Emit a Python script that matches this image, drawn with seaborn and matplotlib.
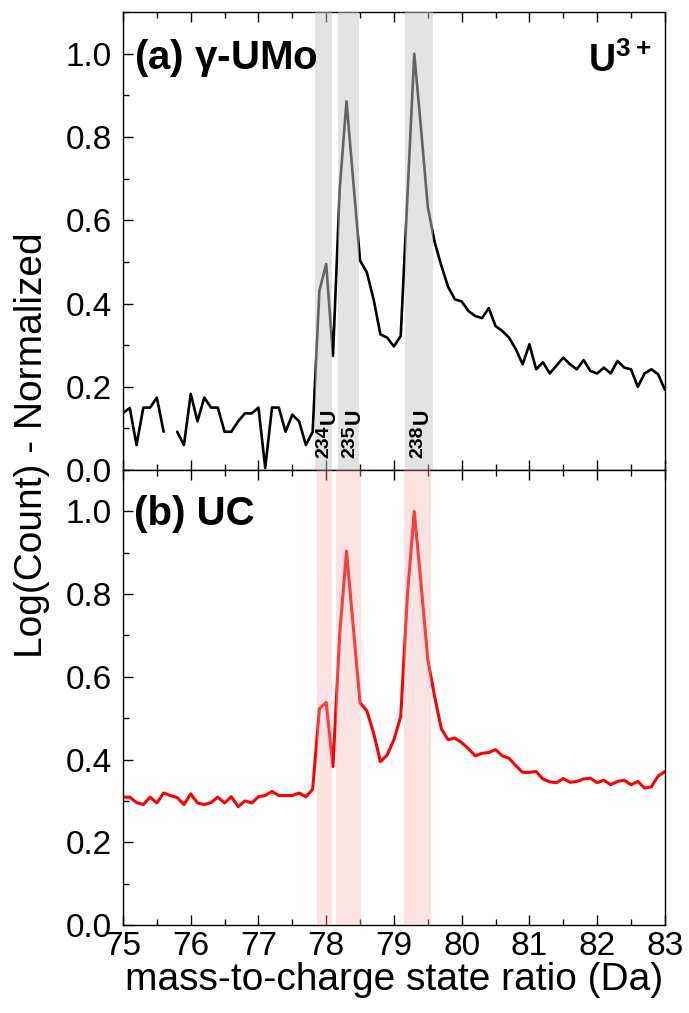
import numpy as np
import pandas as pd
import matplotlib
matplotlib.use("Agg")
import matplotlib.pyplot as plt
import seaborn as sns
from matplotlib.ticker import MultipleLocator

# mass-to-charge grid (Da), 0.1 Da bins
mz = np.linspace(75, 83, 81)

# (a) gamma-UMo, normalized log counts (75.7 bin empty)
umo = [0.137, 0.149, 0.060, 0.150, 0.150, 0.174, 0.092, np.nan, 0.092, 0.060,
       0.183, 0.117, 0.174, 0.150, 0.150, 0.092, 0.092, 0.117, 0.136, 0.136,
       0.150, 0.005, 0.150, 0.150, 0.092, 0.133, 0.117, 0.060, 0.092, 0.431,
       0.495, 0.274, 0.676, 0.886, 0.693, 0.503, 0.475, 0.410, 0.326, 0.318,
       0.297, 0.322, 0.660, 1.000, 0.820, 0.632, 0.548, 0.491, 0.440, 0.410,
       0.405, 0.382, 0.370, 0.365, 0.389, 0.346, 0.334, 0.318, 0.290, 0.254,
       0.302, 0.242, 0.259, 0.232, 0.251, 0.270, 0.254, 0.242, 0.264, 0.238,
       0.232, 0.246, 0.232, 0.262, 0.246, 0.242, 0.200, 0.232, 0.242, 0.230,
       0.193]

# (b) UC
uc = [0.309, 0.309, 0.296, 0.291, 0.309, 0.295, 0.319, 0.313, 0.308, 0.291,
      0.317, 0.295, 0.291, 0.296, 0.309, 0.295, 0.310, 0.286, 0.300, 0.295,
      0.310, 0.313, 0.323, 0.313, 0.313, 0.313, 0.319, 0.310, 0.328, 0.523,
      0.538, 0.383, 0.705, 0.904, 0.720, 0.537, 0.518, 0.464, 0.395, 0.411,
      0.448, 0.504, 0.800, 1.000, 0.825, 0.642, 0.553, 0.474, 0.448, 0.452,
      0.441, 0.426, 0.409, 0.415, 0.417, 0.424, 0.409, 0.403, 0.385, 0.369,
      0.369, 0.371, 0.353, 0.346, 0.344, 0.354, 0.345, 0.347, 0.353, 0.355,
      0.344, 0.350, 0.339, 0.347, 0.350, 0.339, 0.347, 0.331, 0.334, 0.360,
      0.371]

# isotope windows (Da)
bands_umo = [(77.83, 78.08), (78.17, 78.48), (79.17, 79.57)]
bands_uc = [(77.87, 78.08), (78.15, 78.52), (79.15, 79.55)]
iso_mass = ["234", "235", "238"]
iso_pos = [78.0, 78.38, 79.38]

sns.set_style("ticks")
plt.rcParams["font.family"] = ["Liberation Sans", "DejaVu Sans"]
plt.rcParams["mathtext.fontset"] = "custom"
plt.rcParams["mathtext.rm"] = "Liberation Sans"
plt.rcParams["mathtext.bf"] = "Liberation Sans:bold"
plt.rcParams["text.color"] = "black"
plt.rcParams["axes.labelcolor"] = "black"
plt.rcParams["xtick.color"] = "black"
plt.rcParams["ytick.color"] = "black"

fig = plt.figure(figsize=(6.89, 10.13), dpi=100)
ax_a = fig.add_axes([0.1785, 0.536, 0.7865, 0.452])
ax_b = fig.add_axes([0.1785, 0.0869, 0.7865, 0.4491])


def draw_series(ax, values, color, lw):
    df = pd.DataFrame({"mz": mz, "val": values})
    # split on empty bins so the gap stays visible
    df["seg"] = df["val"].isna().cumsum()
    df = df.dropna()
    for _, seg in df.groupby("seg"):
        sns.lineplot(data=seg, x="mz", y="val", color=color, lw=lw, ax=ax,
                     estimator=None, sort=False)


draw_series(ax_a, umo, "black", 1.9)
draw_series(ax_b, uc, "#ff0000", 2.2)

for lo, hi in bands_umo:
    ax_a.axvspan(lo, hi, color="#c8c8c8", alpha=0.5, lw=0, zorder=3)
for lo, hi in bands_uc:
    ax_b.axvspan(lo, hi, color="#f8b0b0", alpha=0.35, lw=0, zorder=3)

# rotated isotope labels: superscript mass number then U
for mass, xp in zip(iso_mass, iso_pos):
    ax_a.annotate(mass, xy=(xp, 0.03), xytext=(-1.5, 0), textcoords="offset points",
                  rotation=90, ha="center", va="bottom", fontsize=14,
                  fontweight="bold", zorder=5)
    ax_a.annotate("U", xy=(xp, 0.03), xytext=(2.0, 23.8), textcoords="offset points",
                  rotation=90, ha="center", va="bottom", fontsize=15.5,
                  fontweight="bold", zorder=5)

ax_a.text(0.02, 0.945, r"(a) $\mathbf{\gamma}$-UMo", transform=ax_a.transAxes,
          fontsize=29, fontweight="bold", ha="left", va="top")
ax_a.text(0.975, 0.933, r"$\mathbf{U^{3+}}$", transform=ax_a.transAxes,
          fontsize=27, ha="right", va="top")
ax_b.text(0.02, 0.945, "(b) UC", transform=ax_b.transAxes,
          fontsize=29, fontweight="bold", ha="left", va="top")

for ax in (ax_a, ax_b):
    ax.set_xlim(75, 83)
    ax.set_ylim(0, 1.1)
    ax.xaxis.set_major_locator(MultipleLocator(1))
    ax.xaxis.set_minor_locator(MultipleLocator(0.5))
    ax.yaxis.set_major_locator(MultipleLocator(0.2))
    ax.yaxis.set_minor_locator(MultipleLocator(0.1))
    ax.tick_params(which="both", direction="in", top=True, right=False,
                   width=1.0, labelsize=24, color="black", labelcolor="black")
    ax.tick_params(which="major", length=7)
    ax.tick_params(which="minor", length=4)
    ax.tick_params(axis="y", pad=8)
    ax.tick_params(axis="x", pad=4)
    for sp in ax.spines.values():
        sp.set_visible(True)
        sp.set_linewidth(1.0)
        sp.set_color("black")
    ax.set_ylabel("")
    ax.set_xlabel("")
    ax.set_yticks(np.arange(0, 1.01, 0.2))
    ax.set_yticklabels([f"{v:.1f}" for v in np.arange(0, 1.01, 0.2)])

ax_a.tick_params(labelbottom=False)
ax_b.set_xlabel("mass-to-charge state ratio (Da)", fontsize=28, labelpad=0,
                color="black")
fig.text(0.047, 0.561, "Log(Count) - Normalized", rotation=90, fontsize=28,
         ha="center", va="center", color="black")

fig.savefig("out.png", dpi=100)
